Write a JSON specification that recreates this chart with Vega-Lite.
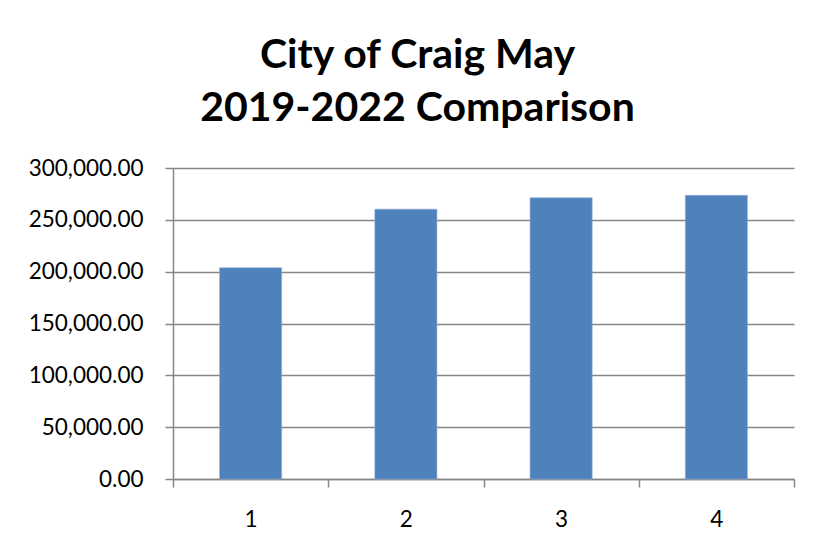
{
  "$schema": "https://vega.github.io/schema/vega-lite/v6.json",
  "width": 621,
  "height": 311,
  "autosize": {"type": "none"},
  "padding": {"left": 173, "top": 168, "right": 25, "bottom": 61},
  "background": "white",
  "title": {
    "text": ["City of Craig May", "2019-2022 Comparison"],
    "font": "Lato",
    "fontSize": 41,
    "fontWeight": "bold",
    "color": "black",
    "lineHeight": 53,
    "anchor": "middle",
    "dx": -66,
    "offset": 27
  },
  "data": {
    "values": [
      {"period": "1", "value": 203800},
      {"period": "2", "value": 260300},
      {"period": "3", "value": 271300},
      {"period": "4", "value": 273600}
    ]
  },
  "mark": {"type": "bar", "color": "#4F81BD", "width": {"band": 0.4}, "stroke": "#8db0dc", "strokeWidth": 0.6},
  "encoding": {
    "x": {
      "field": "period",
      "type": "ordinal",
      "scale": {"paddingInner": 0, "paddingOuter": 0},
      "axis": {
        "title": null,
        "labelAngle": 0,
        "tickBand": "extent",
        "grid": false,
        "domainColor": "#868686",
        "domainWidth": 1.5,
        "tickColor": "#868686",
        "tickWidth": 1.5,
        "tickSize": 8,
        "labelFont": "Lato",
        "labelFontSize": 22.5,
        "labelColor": "black",
        "labelPadding": 21
      }
    },
    "y": {
      "field": "value",
      "type": "quantitative",
      "scale": {"domain": [0, 300000], "nice": false},
      "axis": {
        "title": null,
        "values": [0, 50000, 100000, 150000, 200000, 250000, 300000],
        "format": ",.2f",
        "grid": true,
        "gridColor": "#868686",
        "gridWidth": 1.5,
        "domainColor": "#868686",
        "domainWidth": 1.5,
        "tickColor": "#868686",
        "tickWidth": 1.5,
        "tickSize": 8,
        "labelFont": "Lato",
        "labelFontSize": 22.5,
        "labelColor": "black",
        "labelPadding": 22
      }
    }
  },
  "config": {"view": {"stroke": null}}
}
